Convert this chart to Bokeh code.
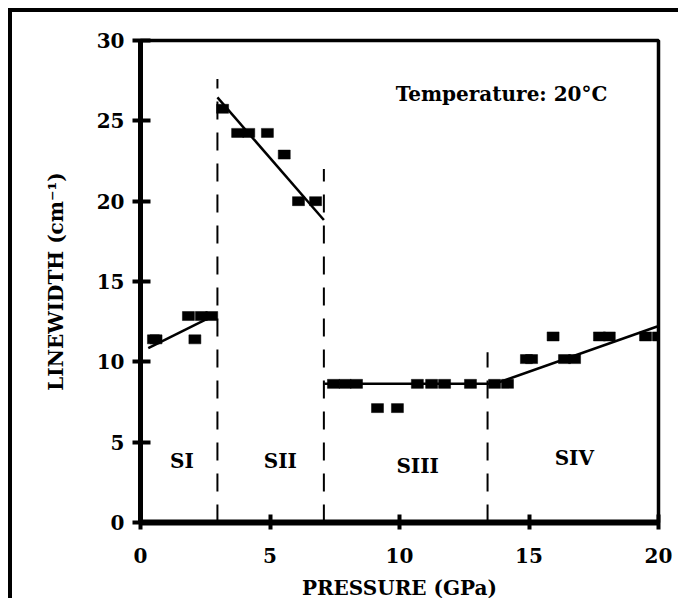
from bokeh.plotting import figure
from bokeh.models import Range1d, FixedTicker
from bokeh.core.properties import value
from bokeh.embed import file_html
from bokeh.resources import INLINE

# ---- data ----
# measured linewidths (pressure GPa, linewidth cm-1)
si_p = [0.5, 0.6, 1.85, 2.1, 2.35, 2.75]
si_w = [11.4, 11.4, 12.85, 11.4, 12.85, 12.85]

sii_p = [3.17, 3.75, 4.18, 4.9, 5.55, 6.1, 6.76]
sii_w = [25.75, 24.25, 24.25, 24.25, 22.9, 20.0, 20.0]

siii_p = [7.45, 7.9, 8.34, 9.15, 9.92, 10.69, 11.24, 11.74, 12.74, 13.67, 14.17]
siii_w = [8.63, 8.63, 8.63, 7.12, 7.12, 8.63, 8.63, 8.63, 8.63, 8.63, 8.63]

siv_p = [14.9, 15.1, 15.93, 16.37, 16.76, 17.72, 18.1, 19.5, 20.0]
siv_w = [10.17, 10.17, 11.58, 10.17, 10.17, 11.58, 11.58, 11.58, 11.58]

# fitted lines (end points)
fit_si_p = [0.3, 2.92]
fit_si_w = [10.85, 12.95]
fit_sii_p = [2.97, 7.08]
fit_sii_w = [26.46, 18.83]
fit_siii_p = [7.1, 13.67]
fit_siii_w = [8.63, 8.63]
fit_siv_p = [13.67, 19.95]
fit_siv_w = [8.63, 12.2]

# phase boundaries
boundary_p = [2.97, 7.08, 13.4]
boundary_top = [27.6, 22.0, 10.6]

# region labels
region_names = ["SI", "SII", "SIII", "SIV"]
region_p = [1.6, 5.4, 10.7, 16.75]
region_w = [3.85, 3.85, 3.5, 4.0]

x_ticks = [0, 5, 10, 15, 20]
y_ticks = [0, 5, 10, 15, 20, 25, 30]

FONT = "DejaVu Serif"

p = figure(width=670, height=590, output_backend="svg", toolbar_location=None,
           x_range=Range1d(0, 20), y_range=Range1d(0, 30),
           min_border_left=128, min_border_right=24, min_border_top=28, min_border_bottom=78)
p.styles = {"border-left": "4px solid black", "border-top": "4px solid black",
            "margin-left": "8px", "margin-top": "8px"}

p.grid.visible = False
p.background_fill_color = "white"
p.border_fill_color = "white"
p.outline_line_color = "black"
p.outline_line_width = 3.5

# axes
p.xaxis.ticker = FixedTicker(ticks=x_ticks)
p.yaxis.ticker = FixedTicker(ticks=y_ticks)
for ax in (p.xaxis, p.yaxis):
    ax.minor_tick_line_color = None
    ax.axis_line_color = "black"
    ax.major_tick_line_color = "black"
    ax.major_tick_line_width = 4
    ax.major_label_text_font = FONT
    ax.major_label_text_font_style = "bold"
    ax.major_label_text_font_size = "20px"
    ax.major_label_text_color = "black"
    ax.axis_label_text_font = FONT
    ax.axis_label_text_font_style = "bold"
    ax.axis_label_text_font_size = "20px"
    ax.axis_label_text_color = "black"

p.xaxis.axis_line_width = 6
p.yaxis.axis_line_width = 5
p.xaxis.major_tick_in = 8
p.xaxis.major_tick_out = 7
p.yaxis.major_tick_in = 10
p.yaxis.major_tick_out = 8
p.xaxis.major_label_standoff = 18
p.yaxis.major_label_standoff = 8
p.xaxis.axis_label = "PRESSURE (GPa)"
p.yaxis.axis_label = "LINEWIDTH (cm\u207b\u00b9)"
p.xaxis.axis_label_standoff = 10
p.yaxis.axis_label_standoff = 26

# phase boundaries
p.segment(x0=boundary_p, y0=[0] * len(boundary_p), x1=boundary_p, y1=boundary_top,
          line_color="black", line_width=2, line_dash="18 13")

# fit lines
for fx, fy in ((fit_si_p, fit_si_w), (fit_sii_p, fit_sii_w),
               (fit_siii_p, fit_siii_w), (fit_siv_p, fit_siv_w)):
    p.line(fx, fy, line_color="black", line_width=2.5)

# data points
for px, py in ((si_p, si_w), (sii_p, sii_w), (siii_p, siii_w), (siv_p, siv_w)):
    p.rect(x=px, y=py, width=12, height=9, width_units="screen", height_units="screen",
           fill_color="black", line_color="black", line_width=0.5)

# region labels
p.text(x=region_p, y=region_w, text=region_names, text_align="center",
       text_baseline="middle", text_font=value(FONT), text_font_style="bold",
       text_font_size="20px", text_color="black")

p.text(x=[13.94], y=[26.67], text=["Temperature: 20°C"], text_align="center",
       text_baseline="middle", text_font=value(FONT), text_font_style="bold",
       text_font_size="20px", text_color="black")

open("out.html", "w").write(file_html(p, INLINE))
